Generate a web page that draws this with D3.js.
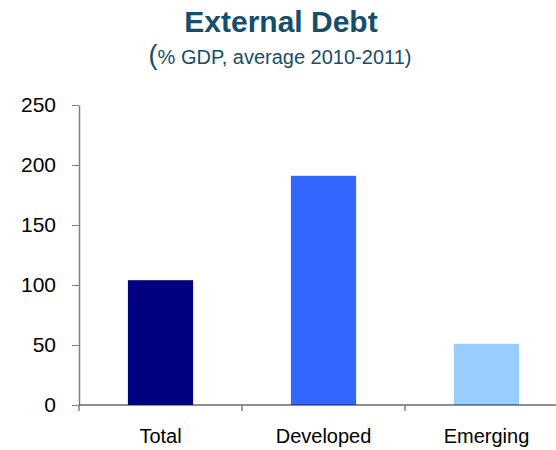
<!DOCTYPE html>
<html>
<head>
<meta charset="utf-8">
<script src="https://cdn.jsdelivr.net/npm/d3@7"></script>
<style>
  html, body { margin: 0; padding: 0; background: #fff; }
  svg { display: block; font-family: "Liberation Sans", Arial, sans-serif; }
</style>
</head>
<body>
<svg id="chart" width="556" height="450"></svg>
<script>
// External debt as % of GDP, average of 2010-2011
const categories = ["Total", "Developed", "Emerging"];
const values = [104, 191, 51];
const barColors = ["#000080", "#3366FF", "#99CCFF"];
const yTicks = [0, 50, 100, 150, 200, 250];

const svg = d3.select("#chart");

const x = d3.scaleBand().domain(categories).range([79, 568]).padding(0);
const y = d3.scaleLinear().domain([0, 250]).range([405, 105]);

// Title and subtitle
svg.append("text")
  .attr("x", 281).attr("y", 32)
  .attr("text-anchor", "middle")
  .attr("fill", "#134E6A")
  .attr("font-size", 30).attr("font-weight", "bold")
  .text("External Debt");

const sub = svg.append("text")
  .attr("x", 280).attr("y", 64)
  .attr("text-anchor", "middle")
  .attr("fill", "#134E6A")
  .attr("font-size", 20);
sub.append("tspan").attr("font-size", 27).text("(");
sub.append("tspan").text("% GDP, average 2010-2011)");

// Bars
svg.append("g").selectAll("rect")
  .data(categories)
  .join("rect")
  .attr("x", d => x(d) + x.bandwidth() * 0.3)
  .attr("width", x.bandwidth() * 0.4)
  .attr("y", (d, i) => y(values[i]))
  .attr("height", (d, i) => y(0) - y(values[i]))
  .attr("fill", (d, i) => barColors[i]);

// Y axis
const yAxis = svg.append("g")
  .attr("transform", "translate(79,0)")
  .call(d3.axisLeft(y).tickValues(yTicks).tickSize(7).tickPadding(16).tickSizeOuter(0));
yAxis.select(".domain").attr("stroke", "#808080").attr("stroke-width", 1.5);
yAxis.selectAll(".tick line").attr("stroke", "#808080");
yAxis.selectAll(".tick text")
  .attr("font-size", 21).attr("fill", "#000")
  .attr("font-family", "'Liberation Sans', Arial, sans-serif");

// X axis baseline with boundary ticks
const xAxisG = svg.append("g");
xAxisG.append("line")
  .attr("x1", 79).attr("x2", 556)
  .attr("y1", y(0)).attr("y2", y(0))
  .attr("stroke", "#202020").attr("stroke-width", 1.2);
xAxisG.selectAll("line.tick")
  .data(categories)
  .join("line")
  .attr("class", "tick")
  .attr("x1", d => x(d)).attr("x2", d => x(d))
  .attr("y1", y(0)).attr("y2", y(0) + 6)
  .attr("stroke", "#808080").attr("stroke-width", 1.5);
xAxisG.selectAll("text")
  .data(categories)
  .join("text")
  .attr("x", d => x(d) + x.bandwidth() / 2)
  .attr("y", 443)
  .attr("text-anchor", "middle")
  .attr("font-size", 20)
  .attr("fill", "#000")
  .text(d => d);
</script>
</body>
</html>
